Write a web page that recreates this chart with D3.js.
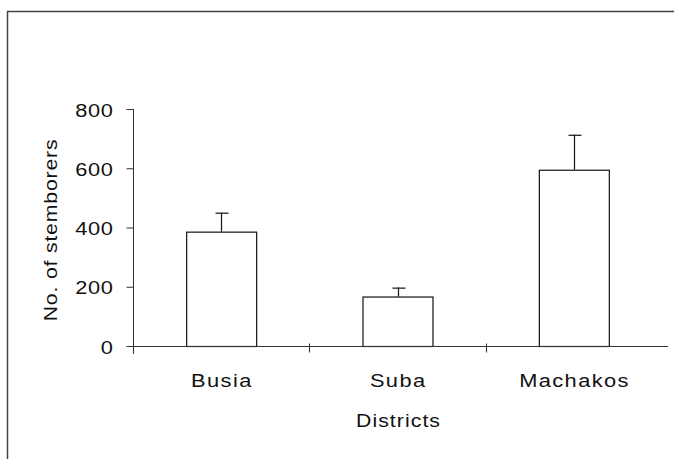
<!DOCTYPE html>
<html>
<head>
<meta charset="utf-8">
<script src="https://cdn.jsdelivr.net/npm/d3@7"></script>
<style>
  html, body { margin: 0; padding: 0; background: #fff; }
  svg { display: block; }
  text { font-family: "Liberation Sans", Arial, sans-serif; fill: #111; }
</style>
</head>
<body>
<svg id="chart" width="674" height="459"></svg>
<script>
const categories = ["Busia", "Suba", "Machakos"];
const means = [386, 167, 595];
const errorTops = [450, 197, 713];
const yTicks = [0, 200, 400, 600, 800];
const xTitle = "Districts";
const yTitle = "No. of stemborers";

const svg = d3.select("#chart");
const FONT = "Liberation Sans, Arial, sans-serif";
const SX = 1.18; // horizontal stretch of the scanned lettering

// frame (left and top border of the scanned figure box)
svg.append("line").attr("x1", 7.5).attr("x2", 7.5).attr("y1", 11).attr("y2", 459)
  .attr("stroke", "#444").attr("stroke-width", 1.5);
svg.append("line").attr("x1", 7).attr("x2", 674).attr("y1", 11.5).attr("y2", 11.5)
  .attr("stroke", "#444").attr("stroke-width", 1.5);

const x = d3.scaleBand().domain(categories).range([133, 662]).paddingInner(0).paddingOuter(0);
const y = d3.scaleLinear().domain([0, 800]).range([346, 109]);

const barW = 70;

// bars
svg.append("g").selectAll("rect").data(categories).join("rect")
  .attr("x", d => x(d) + x.bandwidth() / 2 - barW / 2 + 0.5)
  .attr("y", (d, i) => y(means[i]) + 0.5)
  .attr("width", barW)
  .attr("height", (d, i) => y(0) - y(means[i]))
  .attr("fill", "#fff")
  .attr("stroke", "#111")
  .attr("stroke-width", 1.2);

// error bars
const eb = svg.append("g").attr("stroke", "#111").attr("stroke-width", 1.2);
categories.forEach((c, i) => {
  const cx = Math.round(x(c) + x.bandwidth() / 2) + 0.5;
  eb.append("line").attr("x1", cx).attr("x2", cx)
    .attr("y1", y(means[i])).attr("y2", y(errorTops[i]));
  eb.append("line").attr("x1", cx - 6).attr("x2", cx + 7)
    .attr("y1", y(errorTops[i]) + 0.5).attr("y2", y(errorTops[i]) + 0.5);
});

// y axis
const yAxis = d3.axisLeft(y).tickValues(yTicks).tickSize(7).tickPadding(13).tickFormat(d3.format("d"));
const gy = svg.append("g").attr("transform", "translate(133.5,0)").call(yAxis);
gy.select(".domain").remove();
gy.append("line").attr("x1", 0).attr("x2", 0).attr("y1", 109).attr("y2", 354).attr("stroke", "#333");
gy.selectAll(".tick line").attr("stroke", "#333");
gy.selectAll(".tick text")
  .attr("x", null).attr("dy", null)
  .attr("transform", `translate(-20.5,7) scale(${SX},1)`)
  .attr("text-anchor", "end")
  .attr("font-size", 18.5).attr("fill", "#111")
  .attr("font-family", FONT).attr("letter-spacing", 0.6).attr("dx", 0.6);

// x axis
const gx = svg.append("g").attr("transform", "translate(0,346.5)");
gx.append("line").attr("x1", 133).attr("x2", 668).attr("y1", 0).attr("y2", 0).attr("stroke", "#333");
const boundaries = [x(categories[1]), x(categories[2])];
gx.selectAll("line.tk").data(boundaries).join("line").attr("class", "tk")
  .attr("x1", d => Math.round(d) + 0.5).attr("x2", d => Math.round(d) + 0.5)
  .attr("y1", -3).attr("y2", 6).attr("stroke", "#333");
gx.selectAll("text").data(categories).join("text")
  .attr("transform", d => `translate(${x(d) + x.bandwidth() / 2 + 0.7},40.5) scale(${SX},1)`)
  .attr("text-anchor", "middle")
  .attr("font-size", 18.5)
  .attr("letter-spacing", 1.2)
  .text(d => d);

// titles
svg.append("text").attr("transform", `translate(398.5,427) scale(${SX},1)`).attr("text-anchor", "middle")
  .attr("font-size", 18).attr("letter-spacing", 0.9).text(xTitle);
svg.append("text").attr("transform", `translate(57,230) rotate(-90) scale(${SX},1)`)
  .attr("text-anchor", "middle").attr("font-size", 18).attr("letter-spacing", 0.7).text(yTitle);
</script>
</body>
</html>
